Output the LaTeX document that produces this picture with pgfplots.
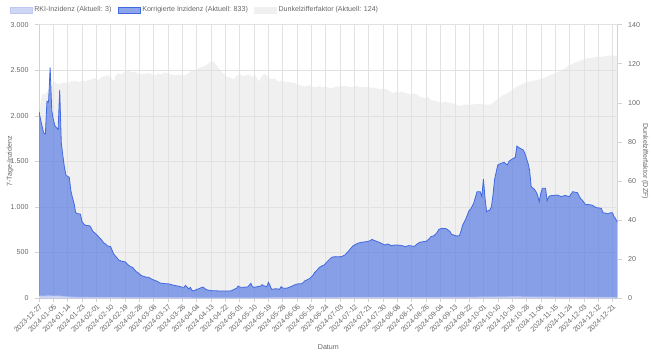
\documentclass[border=0pt]{standalone}
\usepackage{pgfplots}
\usepackage{pgfplotstable}
\pgfplotsset{compat=1.18}
\usepackage{fontspec}
\setmainfont{Liberation Sans}
\definecolor{rb}{RGB}{65,105,225}
\definecolor{gfill}{RGB}{240,240,240}
\definecolor{rkifill}{RGB}{206,214,246}
\definecolor{rkiline}{RGB}{190,200,243}
\definecolor{txt}{RGB}{102,102,102}
\definecolor{gridc}{RGB}{226,226,226}
\definecolor{axc}{RGB}{210,210,210}

\pgfplotstableread{
d v
0 2045
1 1960
2 1880
3 1810
4 1800
5 2160
6 2150
7 2530
8 2060
9 1960
10 1890
11 1870
12 1850
13 2285
14 1700
15 1560
16 1430
17 1345
18 1335
19 1325
20 1180
21 1100
22 1040
23 940
24 925
25 925
26 920
27 840
28 815
29 800
30 795
31 795
32 790
33 760
34 728
35 715
36 700
37 681
38 660
39 644
40 620
41 600
42 590
43 571
44 568
45 563
46 520
47 480
48 460
49 440
50 417
51 410
52 403
53 400
54 398
55 380
56 362
57 350
58 340
59 333
60 310
61 290
62 280
63 265
64 250
65 241
66 236
67 230
68 228
69 227
70 215
71 205
72 198
74 185
76 165
77 161
80 156
82 154
84 142
86 135
88 128
90 118
91 117
92 139
93 120
94 99
95 117
96 85
97 77
99 95
100 99
102 115
103 121
104 105
105 92
107 84
108 81
112 78
116 77
120 77
121 81
123 100
124 106
125 132
126 120
127 117
130 120
131 121
132 140
133 161
134 125
135 117
137 124
139 130
140 146
141 135
143 124
144 172
145 140
146 95
148 100
149 102
151 95
152 124
153 110
154 106
156 110
158 124
160 140
162 154
164 156
165 157
167 190
169 205
170 216
172 250
173 278
175 315
176 337
178 355
179 362
181 400
183 435
184 448
186 454
188 452
190 455
192 472
194 508
196 550
197 571
199 590
200 600
202 610
204 615
206 619
208 630
209 644
210 635
212 622
214 608
215 600
217 582
219 593
220 585
221 575
223 580
225 582
227 578
229 570
230 563
232 575
234 571
236 568
237 589
239 611
241 618
243 622
245 650
246 673
248 684
250 720
251 754
253 765
255 762
256 758
258 730
259 699
261 688
262 681
264 684
265 740
266 801
268 871
270 960
271 975
273 1046
275 1167
277 1167
278 1112
279 1306
280 1100
281 948
283 966
284 1000
285 1131
286 1300
288 1460
290 1478
292 1489
294 1460
295 1500
297 1525
299 1544
300 1668
302 1643
304 1625
305 1590
306 1533
307 1480
308 1400
309 1222
311 1193
312 1167
313 1130
314 1057
315 1149
316 1204
318 1204
319 1068
320 1110
321 1123
323 1125
325 1131
327 1120
328 1112
330 1125
331 1123
333 1112
334 1140
335 1167
337 1160
338 1156
340 1090
341 1076
343 1028
345 1025
347 1021
349 1000
350 991
352 988
353 984
354 937
356 930
357 923
359 937
360 935
361 893
362 870
363 833
}\korr

\pgfplotstableread{
d v
0 22
3 20
6 24
9 21
13 22
16 14
20 10
25 8
30 7
40 5
50 4
60 3
80 1.5
100 1
140 1
170 2
190 4
210 6
240 6
260 7
280 10
300 13
310 10
330 9
350 8
363 3
}\rki

\pgfplotstableread{
d v
0 97
1 100
2 104
3 105
4 104
5 106
6 105
7 106
8 109
10 110.8
12 109.5
14 110
16 110.5
18 110
20 111
23 111.3
25 110.5
27 111.5
29 111
31 111.7
33 112
35 112.9
37 111.5
39 113
41 113.5
43 114.2
45 113
47 111
48 114
50 115.1
52 114.5
54 116
56 116.5
58 115.5
60 116
62 115
63 114.2
65 115
67 114.8
69 115.4
71 114.5
73 114
75 115
77 114.5
79 115.6
81 115
83 114.5
86 114.2
88 114.5
90 114
93 114.5
95 116
97 116.5
99 117.2
101 118
103 118.5
105 119.4
107 120.5
109 121.6
110 120.5
112 118.7
114 116.5
116 114.8
118 113.3
120 113
122 112
124 113.5
126 114.8
128 113.5
130 114.2
132 114.5
134 113.3
136 114
138 110.8
140 114
142 114.8
144 113
146 112
148 112.5
150 110.8
152 111.3
155 110.8
158 110.5
161 110
164 109
167 108.3
170 109
172 108
174 108
176 108.5
178 108
180 108.3
183 107.5
186 108
189 108.5
193 108.6
196 108
199 108.6
202 108
206 108
209 107.8
212 107.4
215 107
218 107
220 106
222 104.9
224 105.5
226 105.3
228 105.7
231 104.8
233 104.3
235 104.9
237 104.5
239 103.1
242 102.5
244 103
246 101.4
249 101
252 100
255 100.5
258 100
261 99.5
264 98.4
267 99
271 99
274 99.3
277 99.6
280 99
283 99
285 100
287 101.4
289 102.5
291 103.8
294 104.9
297 106.5
300 108.3
303 109.5
306 110.5
309 111
313 111.7
316 112.5
319 113.4
322 114.5
325 115.4
328 116.5
331 118.2
334 119.5
336 120.5
338 121
341 122
344 122.8
347 123
350 123.6
353 123.5
356 124
359 124.3
362 124
363 124
}\dzf

\begin{document}
\begin{tikzpicture}[font=\fontsize{7.1}{8.5}\selectfont]
\useasboundingbox (0,0) rectangle (651pt,354pt);
% right axis: Dunkelzifferfaktor
\begin{axis}[at={(39pt,56pt)}, anchor=south west, scale only axis,
  width=578.7pt, height=273.3pt,
  xmin=0, xmax=363.3, ymin=0, ymax=140,
  axis x line=none, axis y line*=right,
  ytick={0,20,...,140},
  /pgf/number format/assume math mode=true,
  tick align=outside, major tick length=4pt,
  tick style={axc, line width=0.5pt},
  axis line style={axc, line width=0.6pt},
  yticklabel style={text=txt, anchor=west, xshift=3pt},
  ylabel={Dunkelzifferfaktor (DZF)},
  every axis y label/.style={at={(axis description cs:1.047,0.5)}, rotate=-90, anchor=center, text=txt},
]
\addplot[draw=none, fill=gfill] table[x=d,y=v] {\dzf} \closedcycle;
\end{axis}
% left axis: Inzidenz
\begin{axis}[at={(39pt,56pt)}, anchor=south west, scale only axis,
  width=578.7pt, height=273.3pt,
  xmin=0, xmax=363.3, ymin=0, ymax=3000,
  axis x line*=bottom, axis y line*=left,
  xtick={0,9,...,360},
  xticklabels={2023-12-27,2024-01-05,2024-01-14,2024-01-23,2024-02-01,2024-02-10,2024-02-19,2024-02-28,2024-03-08,2024-03-17,2024-03-26,2024-04-04,2024-04-13,2024-04-22,2024-05-01,2024-05-10,2024-05-19,2024-05-28,2024-06-06,2024-06-15,2024-06-24,2024-07-03,2024-07-12,2024-07-21,2024-07-30,2024-08-08,2024-08-17,2024-08-26,2024-09-04,2024-09-13,2024-09-22,2024-10-01,2024-10-10,2024-10-19,2024-10-28,2024-11-06,2024-11-15,2024-11-24,2024-12-03,2024-12-12,2024-12-21},
  x tick label style={rotate=45, anchor=north east, inner sep=1pt, text=txt},
  ytick={0,500,...,3000},
  yticklabels={0,500,1.000,1.500,2.000,2.500,3.000},
  yticklabel style={text=txt, xshift=-3pt},
  grid=major, grid style={gridc, line width=0.5pt},
  tick align=outside, major tick length=4pt,
  tick style={axc, line width=0.5pt},
  axis line style={axc, line width=0.6pt},
  xlabel={Datum},
  every axis x label/.style={at={(axis description cs:0.5,-0.179)}, anchor=center, text=txt},
  ylabel={7-Tage-Inzidenz},
  every axis y label/.style={at={(axis description cs:-0.050,0.5)}, rotate=90, anchor=center, text=txt},
  legend style={at={(axis description cs:-0.0553,1.0538)}, anchor=west, draw=none, fill=none,
    legend columns=3, text=txt, font=\fontsize{7.1}{8.5}\selectfont,
    /tikz/every even column/.style={column sep=5pt},
    nodes={inner sep=1.5pt}},
  legend cell align=left,
]
\addplot[draw=none, fill=rb, fill opacity=0.6, forget plot] table[x=d,y=v] {\korr} \closedcycle;
\addplot[rb, line width=0.8pt, forget plot] table[x=d,y=v] {\korr};
\addplot[draw=none, fill=rkifill, forget plot] table[x=d,y=v] {\rki} \closedcycle;
\addplot[rkiline, line width=0.8pt, forget plot] table[x=d,y=v] {\rki};
\addlegendimage{legend image code/.code={\draw[fill=rkifill, draw=rkiline, line width=0.6pt] (0pt,-3pt) rectangle (22pt,3pt);}}
\addlegendentry{RKI-Inzidenz (Aktuell: 3)}
\addlegendimage{legend image code/.code={\draw[fill=rb!60!white, draw=rb, line width=0.8pt] (0pt,-3pt) rectangle (22pt,3pt);}}
\addlegendentry{Korrigierte Inzidenz (Aktuell: 833)}
\addlegendimage{legend image code/.code={\draw[fill=gfill, draw=gfill, line width=0.6pt] (0pt,-3pt) rectangle (22pt,3pt);}}
\addlegendentry{Dunkelzifferfaktor (Aktuell: 124)}
\end{axis}
\end{tikzpicture}
\end{document}
